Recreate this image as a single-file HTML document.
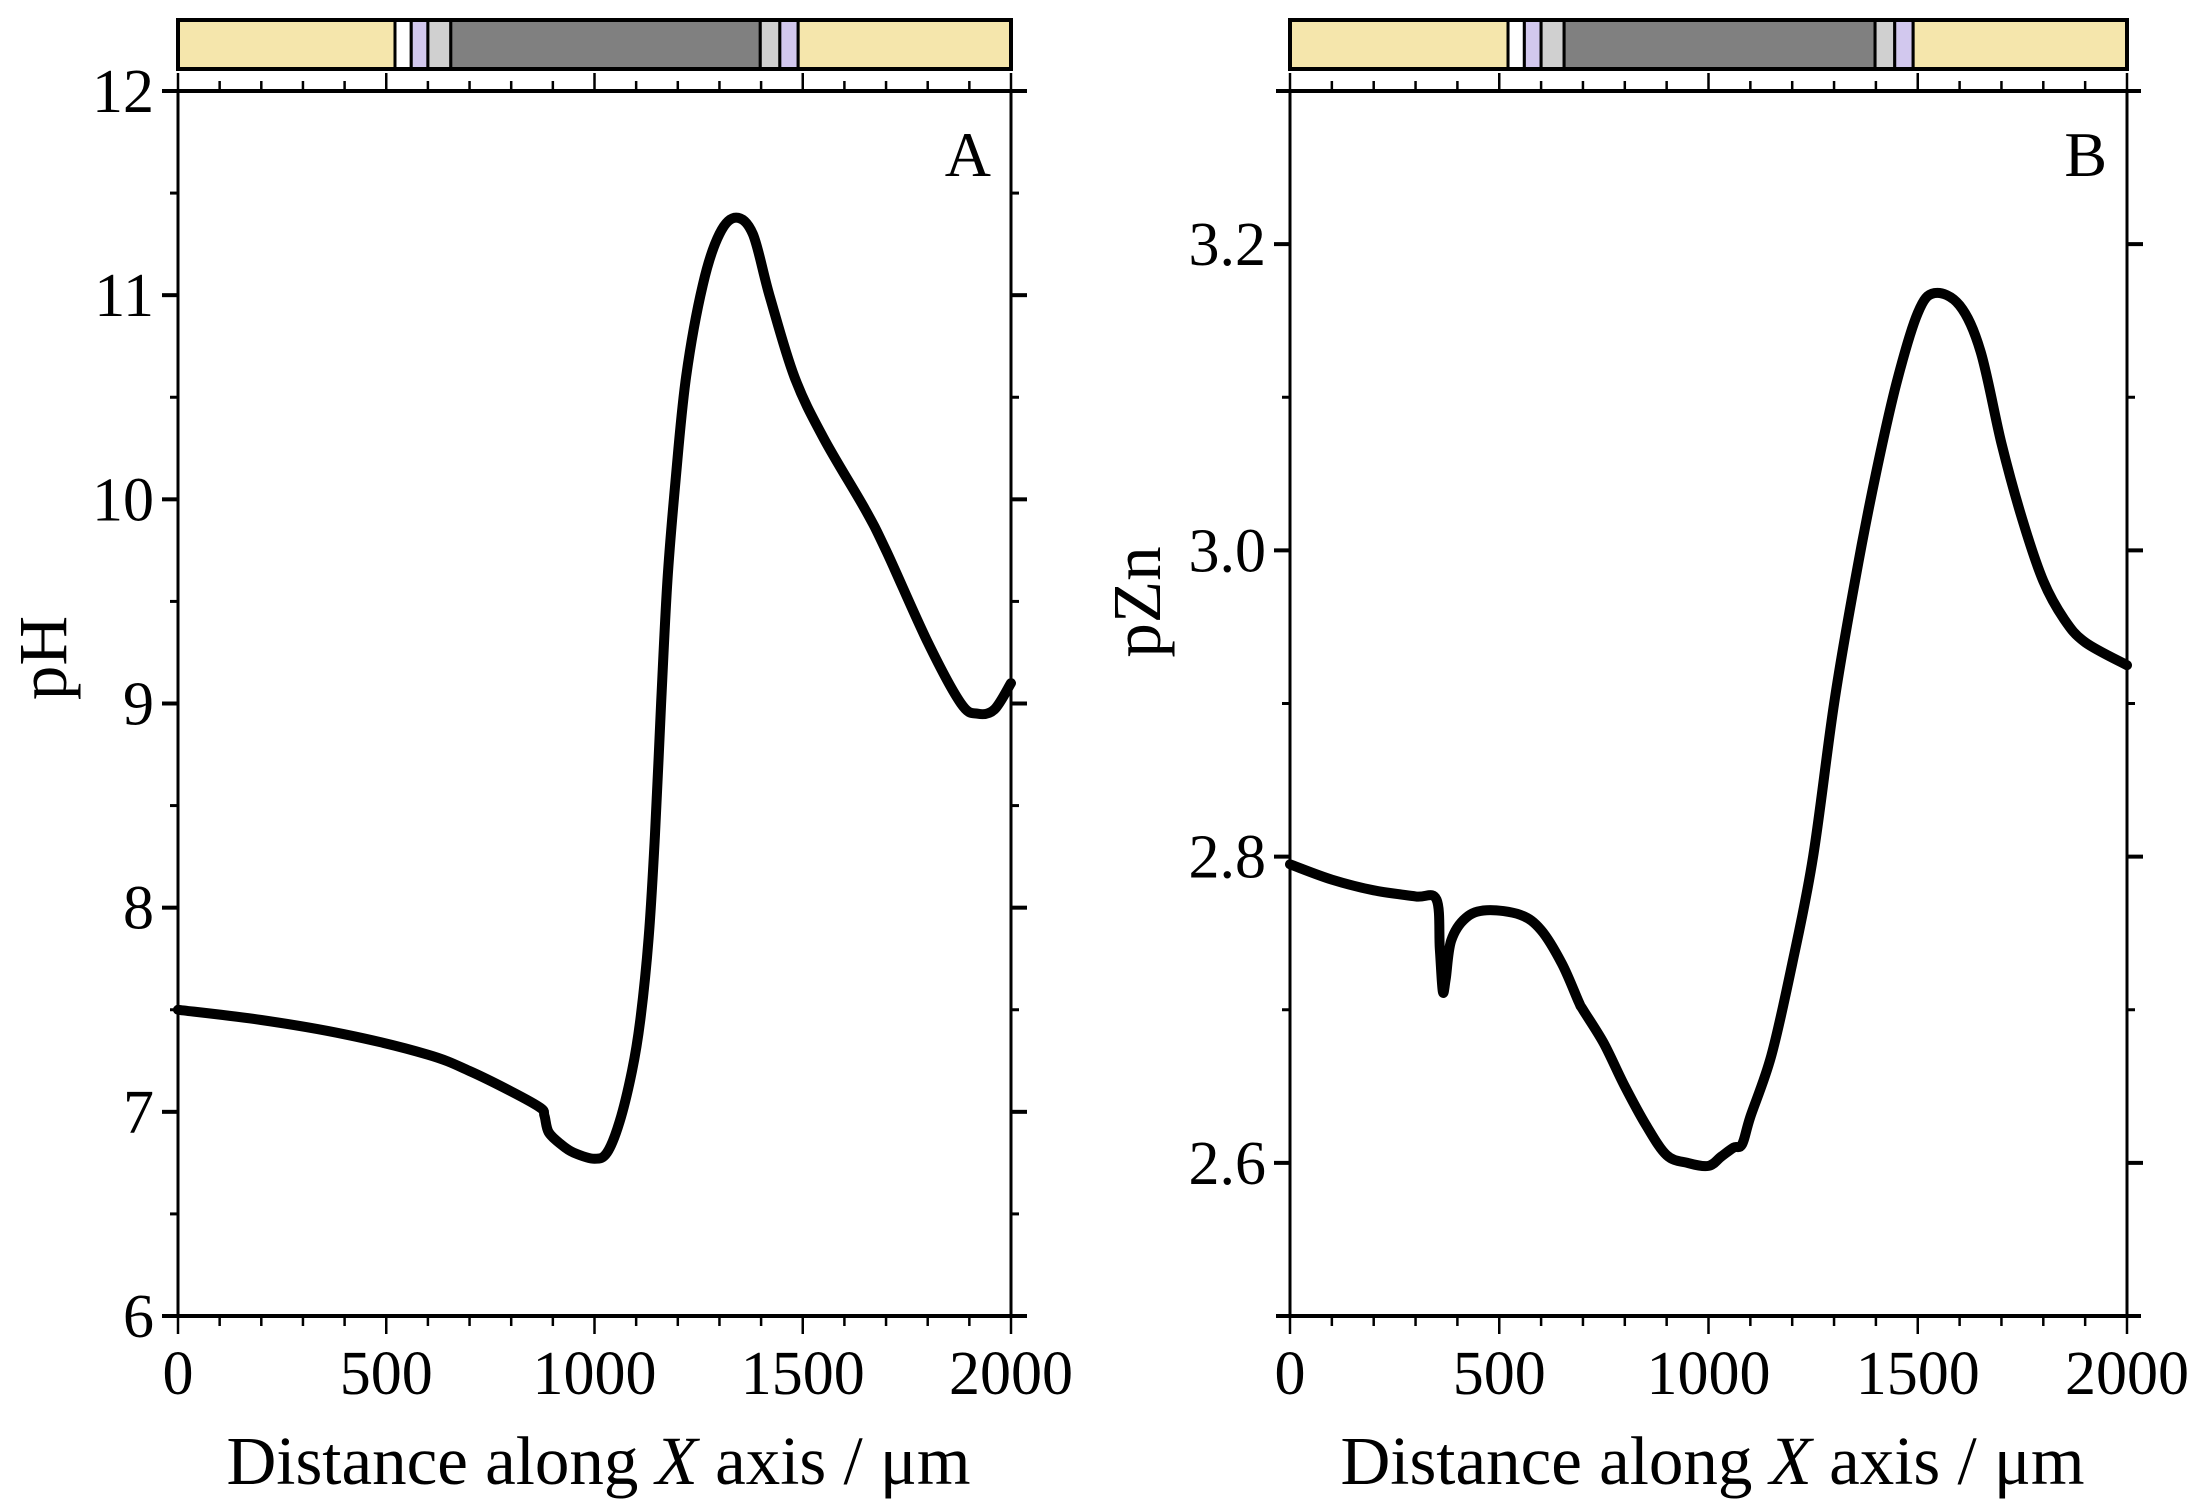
<!DOCTYPE html>
<html><head><meta charset="utf-8"><style>
html,body{margin:0;padding:0;background:#fff;}
svg{display:block;}
text{font-family:"Liberation Serif",serif;fill:#000;}
</style></head><body>
<svg id="c" width="2196" height="1510" viewBox="0 0 2196 1510"></svg>
<script>
const xTicks=[0,500,1000,1500,2000];
const pHTicks=[6,7,8,9,10,11,12];
const pZnTicks=[2.6,2.8,3.0,3.2];
const pZnTickLabels=["2.6","2.8","3.0","3.2"];
const pHX=[0,200,400,600,700,800,870,880,890,920,950,1000,1030,1060,1090,1110,1130,1145,1160,1175,1195,1220,1260,1300,1340,1380,1420,1480,1550,1650,1700,1800,1880,1920,1960,2000];
const pHY=[7.5,7.45,7.38,7.28,7.2,7.1,7.02,6.98,6.9,6.84,6.8,6.77,6.8,6.95,7.2,7.45,7.85,8.35,9.0,9.6,10.1,10.6,11.05,11.3,11.38,11.3,11.0,10.6,10.3,9.95,9.75,9.3,9.0,8.95,8.97,9.1];
const pZnX=[0,100,200,300,350,358,365,372,385,420,470,550,600,650,690,700,750,800,850,900,950,1000,1030,1060,1080,1100,1150,1200,1250,1300,1350,1400,1450,1500,1540,1600,1650,1700,1750,1800,1850,1900,2000];
const pZnY=[2.795,2.785,2.778,2.774,2.772,2.74,2.712,2.72,2.745,2.76,2.765,2.762,2.752,2.73,2.705,2.7,2.678,2.65,2.625,2.605,2.6,2.598,2.604,2.61,2.612,2.63,2.67,2.73,2.8,2.9,2.98,3.05,3.11,3.155,3.168,3.16,3.13,3.07,3.02,2.98,2.955,2.94,2.925];
const NS="http://www.w3.org/2000/svg";
const svg=document.getElementById('c');
function el(t,a,p){const e=document.createElementNS(NS,t);for(const k in a)e.setAttribute(k,a[k]);(p||svg).appendChild(e);return e;}
function smooth(pts){
  let d='M'+pts[0][0].toFixed(1)+','+pts[0][1].toFixed(1);
  for(let i=0;i<pts.length-1;i++){
    const p0=pts[Math.max(0,i-1)],p1=pts[i],p2=pts[i+1],p3=pts[Math.min(pts.length-1,i+2)];
    const c1=[p1[0]+(p2[0]-p0[0])/6,p1[1]+(p2[1]-p0[1])/6];
    const c2=[p2[0]-(p3[0]-p1[0])/6,p2[1]-(p3[1]-p1[1])/6];
    d+=` C${c1[0].toFixed(1)},${c1[1].toFixed(1)} ${c2[0].toFixed(1)},${c2[1].toFixed(1)} ${p2[0].toFixed(1)},${p2[1].toFixed(1)}`;
  }
  return d;
}
function panel(o){
  const g=el('g',{});
  
  
  const L=o.L,R=o.R,T=91,B=1316;
  const sx=v=>L+(v-0)/2000*(R-L);
  const sy=v=>B-(v-o.ymin)/(o.ymax-o.ymin)*(B-T);
  const bar=el('g',{},g);
  
  
  const bt=20,bb=69;
  const segs=[[0,521,'#f5e6ac'],[521,560,'#ffffff'],[560,600,'#d2c8ee'],[600,655,'#d0d0d0'],[655,1398,'#808080'],[1398,1445,'#d0d0d0'],[1445,1489,'#d2c8ee'],[1489,2000,'#f5e6ac']];
  segs.forEach(s=>{el('rect',{x:sx(s[0]),y:bt,width:sx(s[1])-sx(s[0]),height:bb-bt,fill:s[2],stroke:'#000','stroke-width':3},bar);});
  el('rect',{x:L,y:bt,width:R-L,height:bb-bt,fill:'none',stroke:'#000','stroke-width':4},bar);
  el('line',{x1:L-14,x2:R+14,y1:T,y2:T,stroke:'#000','stroke-width':4},g);
  el('line',{x1:L-14,x2:R+14,y1:B,y2:B,stroke:'#000','stroke-width':4},g);
  el('line',{x1:L,x2:L,y1:T,y2:B,stroke:'#000','stroke-width':3},g);
  el('line',{x1:R,x2:R,y1:T,y2:B,stroke:'#000','stroke-width':3},g);
  for(let v=0;v<=2000;v+=100){
    const maj=v%500===0,x=sx(v),len=maj?18:10;
    el('line',{x1:x,x2:x,y1:T,y2:T-len,stroke:'#000','stroke-width':2.5},g);
    el('line',{x1:x,x2:x,y1:B,y2:B+len,stroke:'#000','stroke-width':2.5},g);
  }
  xTicks.forEach(v=>{const t=el('text',{x:sx(v),y:1394,'font-size':62,'text-anchor':'middle'},g);t.textContent=v;
    });
  for(let v=o.ymin;v<=o.ymax+1e-9;v+=o.minor){
    const y=sy(v),maj=Math.abs(Math.round(v/o.major)*o.major-v)<1e-6,len=maj?16:8;
    el('line',{x1:L,x2:L-len,y1:y,y2:y,stroke:'#000','stroke-width':maj?4:3},g);
    el('line',{x1:R,x2:R+len,y1:y,y2:y,stroke:'#000','stroke-width':maj?4:3},g);
  }
  o.ticks.forEach((v,i)=>{const t=el('text',{x:L-24,y:sy(v)+21,'font-size':62,'text-anchor':'end'},g);t.textContent=o.labels[i];
    });
  const xt=el('text',{x:(L+R)/2+4,y:1484,'font-size':69,'text-anchor':'middle'},g);
  xt.innerHTML='Distance along <tspan font-style="italic">X</tspan> axis / μm';
  
  const yt=el('text',{x:0,y:0,'font-size':69,'text-anchor':'middle',transform:`translate(${o.ytx},${o.yty}) rotate(-90)`},g);
  yt.textContent=o.ytitle;
  
  const pl=el('text',{x:R-20,y:176,'font-size':64,'text-anchor':'end'},g);
  pl.textContent=o.letter;
  
  const pts=o.xs.map((x,i)=>[sx(x),sy(o.ys[i])]);
  const p=el('path',{d:smooth(pts),fill:'none',stroke:'#000','stroke-width':10,'stroke-linejoin':'round','stroke-linecap':'round'},g);
  
}
panel({name:'panel-a-ph',L:178,R:1011,ymin:6,ymax:12,major:1,minor:0.5,ticks:pHTicks,labels:pHTicks.map(String),ytitle:'pH',ytx:66,yty:658,letter:'A',xs:pHX,ys:pHY,series:'ph-line'});
panel({name:'panel-b-pzn',L:1290,R:2127,ymin:2.5,ymax:3.3,major:0.2,minor:0.1,ticks:pZnTicks,labels:pZnTickLabels,ytitle:'pZn',ytx:1160,yty:602,letter:'B',xs:pZnX,ys:pZnY,series:'pzn-line'});
</script>
</body></html>
